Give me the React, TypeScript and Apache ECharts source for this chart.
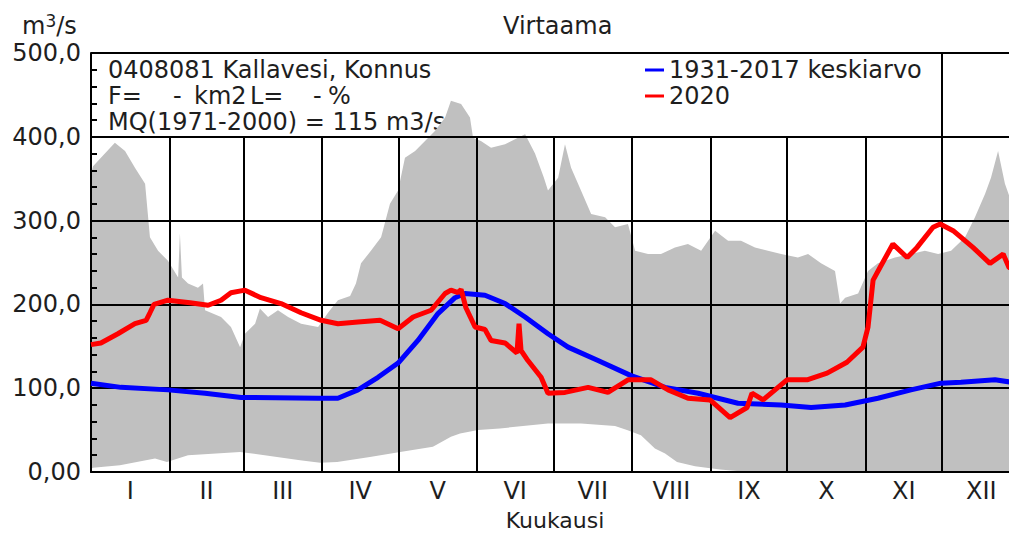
import React, { useEffect, useRef } from 'react';
import * as echarts from 'echarts';

const FONT = 'DejaVu Sans';
const TXT = '#1e1e1e';
const FS = 24;

// Day-of-year boundaries of months (2020, leap year)
const monthStarts = [0, 31, 60, 91, 121, 152, 182, 213, 244, 274, 305, 335, 366];
const monthLabels = ['I', 'II', 'III', 'IV', 'V', 'VI', 'VII', 'VIII', 'IX', 'X', 'XI', 'XII'];
const yTicks = [0, 100, 200, 300, 400, 500];
// visible part of the year (the picture is cut at the right edge)
const dayMax = 361.4;

// Envelope of daily flows (max), m3/s, [day, value]
const maxFlow: [number, number][] = [
  [0, 355], [0.8, 365], [3.9, 375], [9.4, 393], [13.4, 383], [17.3, 363], [21.3, 344], [23.2, 280],
  [26.4, 264], [30.3, 252], [34.3, 232], [35, 285], [35.8, 232], [38.2, 225], [42.1, 220], [44.1, 225],
  [44.9, 193], [51.2, 185], [55.1, 173], [58.7, 149], [60.6, 165], [64.6, 177], [66.5, 195], [69.7, 185],
  [73.6, 193], [77.6, 185], [82.7, 177], [89.4, 173], [93.3, 190], [97.2, 205], [102, 210], [104.3, 225],
  [106.3, 249], [110.2, 264], [114.2, 280], [117.7, 320], [120.9, 336], [123.6, 375], [127.6, 383],
  [131.5, 395], [135.4, 407], [139.4, 423], [141.7, 443], [145.7, 439], [149.2, 423], [150.4, 399],
  [153.5, 395], [157.5, 387], [163, 391], [168.1, 399], [170.9, 403], [174.8, 380], [178.3, 351],
  [179.9, 336], [183.9, 351], [186.6, 391], [189, 363], [192.9, 336], [196.9, 308], [202.4, 304],
  [206.3, 292], [211.4, 296], [214.2, 264], [219.3, 260], [224.4, 260], [229.9, 268], [235, 272],
  [240.2, 264], [245.7, 288], [250.8, 276], [255.9, 276], [261.4, 268], [266.5, 264], [271.7, 260],
  [278.3, 256], [282.3, 260], [287.4, 249], [292.9, 240], [294.9, 201], [296.9, 208], [302, 213],
  [305.9, 240], [309.8, 249], [316.5, 256], [322.8, 260], [328.3, 264], [333.5, 260], [338.6, 264],
  [344.1, 280], [348, 304], [352, 332], [354.3, 351], [357.1, 383], [359.8, 344], [362.6, 320], [366, 300],
];

// Envelope of daily flows (min)
const minFlow: [number, number][] = [
  [0, 4], [0.8, 5], [11.4, 8], [25.2, 16], [29.9, 12], [38.2, 20], [58.7, 24], [82.3, 14], [90.2, 11],
  [96.9, 12], [109.8, 18], [121.7, 24], [134.6, 30], [141.7, 42], [145.3, 46], [152.4, 50], [161, 52],
  [174, 56], [179.9, 58], [192.9, 58], [206.3, 55], [211, 50], [216.5, 44], [222, 28], [226, 22],
  [230.7, 12], [237.8, 7], [247.6, 3], [255.5, 1], [366, 1],
];

// 1931-2017 mean
const meanFlow: [number, number][] = [
  [0, 106], [11.8, 101], [30.3, 98], [44.9, 94], [59.1, 89], [89.4, 88], [97.2, 88], [105.1, 98],
  [113, 113], [120.9, 130], [128.7, 157], [136.6, 189], [143.3, 208], [147.2, 213], [155.1, 211],
  [163, 201], [170.9, 185], [179.9, 165], [187.8, 149], [199.6, 133], [212.6, 115], [226, 101],
  [239, 94], [254.7, 82], [271.7, 80], [283.5, 77], [296.9, 80], [309.8, 88], [322.8, 98], [334.6, 106],
  [342.5, 107], [355.9, 110], [362.6, 107], [366, 107],
];

// 2020
const flow2020: [number, number][] = [
  [0, 152], [3.9, 154], [10.6, 165], [17.3, 177], [21.7, 181], [23.2, 190], [24.8, 200], [30.3, 205],
  [39, 202], [46.1, 199], [51.2, 205], [55.1, 214], [60.6, 217], [66.9, 208], [74.8, 201], [82.7, 190],
  [90.6, 181], [97.2, 177], [105.1, 179], [113.8, 181], [120.9, 171], [126.8, 185], [133.9, 193],
  [139.4, 213], [141.7, 217], [144.5, 214], [145.7, 218], [147.6, 196], [151.2, 173], [155.1, 170],
  [157.5, 157], [163, 154], [167.7, 142], [168.5, 177], [169.3, 145], [172, 133], [177.2, 113],
  [179.9, 94], [186.6, 95], [195.7, 101], [203.5, 95], [211.4, 110], [220.5, 110], [227.2, 98],
  [235, 88], [243.7, 86], [251.6, 65], [258.3, 77], [260.2, 94], [264.6, 86], [274, 110], [281.9, 110],
  [289.8, 118], [297.6, 131], [303.9, 149], [305.9, 173], [307.9, 229], [310.6, 244], [315.7, 272],
  [321.3, 256], [325.2, 268], [331.5, 292], [334.3, 296], [339.4, 288], [347.2, 268], [353.9, 249],
  [359.1, 260], [361.4, 244], [363.8, 242],
];

const monthMid = monthLabels.map((_, i) => (monthStarts[i] + monthStarts[i + 1]) / 2);

function buildOption() {
  const txt = (text: string, x: number, y: number, align = 'left', fontSize = FS) => ({
    type: 'text',
    x,
    y,
    silent: true,
    style: { text, fill: TXT, fontSize, fontFamily: FONT, align, verticalAlign: 'middle' },
  });
  const markData = monthStarts.slice(1, 12).map((d, i) => [
    { coord: [d, 0] },
    { coord: [d, i === 10 ? yTicks[5] : yTicks[4]] },
  ]);
  return {
    animation: false,
    backgroundColor: '#ffffff',
    title: {
      text: 'Virtaama',
      left: 503,
      top: 14,
      padding: 0,
      textStyle: { fontSize: FS, fontWeight: 'normal', fontFamily: FONT, color: TXT },
    },
    legend: {
      data: ['1931-2017 keskiarvo', '2020'],
      orient: 'vertical',
      left: 645,
      top: 57,
      padding: 0,
      itemWidth: 19,
      itemHeight: 3,
      itemGap: 0,
      icon: 'rect',
      selectedMode: false,
      textStyle: { fontSize: FS, fontFamily: FONT, color: TXT, lineHeight: 26 },
    },
    grid: { left: 91, top: 53, right: 0, height: 419, outerBoundsMode: 'none', containLabel: false },
    xAxis: {
      type: 'value',
      min: 0,
      max: dayMax,
      z: 3,
      axisLine: { show: true, onZero: false, lineStyle: { color: '#000', width: 2 } },
      axisTick: { show: false },
      splitLine: { show: false },
      axisLabel: {
        customValues: monthMid,
        margin: 7,
        fontSize: FS,
        lineHeight: 24,
        fontFamily: FONT,
        color: TXT,
        formatter: (v: number) => {
          let best = 0;
          for (let i = 0; i < monthMid.length; i++) {
            if (Math.abs(monthMid[i] - v) < Math.abs(monthMid[best] - v)) best = i;
          }
          return monthLabels[best];
        },
      },
    },
    yAxis: {
      type: 'value',
      min: 0,
      max: 500,
      interval: 100,
      z: 3,
      axisLine: { show: true, lineStyle: { color: '#000', width: 2 } },
      axisTick: { show: true, inside: true, length: 6, lineStyle: { color: '#000', width: 2 } },
      minorTick: { show: true, splitNumber: 5, length: 6, lineStyle: { color: '#000', width: 2 } },
      splitLine: { show: true, lineStyle: { color: '#000', width: 2 } },
      axisLabel: {
        margin: 10,
        fontSize: FS,
        fontFamily: FONT,
        color: TXT,
        padding: [8, 0, 0, 0],
        formatter: (v: number) => (v === 0 ? '0,00' : v.toFixed(1).replace('.', ',')),
      },
    },
    graphic: [
      {
        type: 'text',
        x: 22,
        y: 26,
        silent: true,
        style: {
          text: '{a|m}{b|3}{a|/s}',
          fill: TXT,
          align: 'left',
          verticalAlign: 'middle',
          rich: {
            a: { fontSize: FS, fontFamily: FONT, fill: TXT },
            b: { fontSize: 17, fontFamily: FONT, fill: TXT, padding: [0, 0, 10, 0] },
          },
        },
      },
      txt('0408081 Kallavesi, Konnus', 108, 70),
      txt('F=', 108, 96),
      txt('-', 173, 96),
      txt('km2', 194, 96),
      txt('L=', 250, 96),
      txt('-', 313, 96),
      txt('%', 328, 96),
      txt('MQ(1971-2000) = 115 m3/s', 108, 122),
      txt('Kuukausi', 555, 520, 'center', 22),
    ],
    series: [
      {
        name: 'maksimi',
        type: 'line',
        data: maxFlow,
        symbol: 'none',
        silent: true,
        color: '#c0c0c0',
        lineStyle: { width: 0 },
        areaStyle: { color: '#c0c0c0', opacity: 1 },
        z: 1,
      },
      {
        name: 'minimi',
        type: 'line',
        data: minFlow,
        symbol: 'none',
        silent: true,
        color: '#ffffff',
        lineStyle: { width: 0 },
        areaStyle: { color: '#ffffff', opacity: 1 },
        z: 1.5,
        markLine: {
          silent: true,
          symbol: ['none', 'none'],
          label: { show: false },
          lineStyle: { color: '#000', width: 2, type: 'solid' },
          z: 3,
          data: markData,
        },
      },
      {
        name: '1931-2017 keskiarvo',
        type: 'line',
        data: meanFlow,
        symbol: 'none',
        color: '#0000ff',
        lineStyle: { color: '#0000ff', width: 5 },
        z: 8,
      },
      {
        name: '2020',
        type: 'line',
        data: flow2020,
        symbol: 'none',
        color: '#ff0000',
        lineStyle: { color: '#ff0000', width: 5 },
        z: 9,
      },
    ],
  };
}

export default function App() {
  const ref = useRef<HTMLDivElement>(null);
  useEffect(() => {
    if (!ref.current) return;
    const chart = echarts.init(ref.current, null, { renderer: 'svg' });
    chart.setOption(buildOption() as any);
    return () => chart.dispose();
  }, []);
  return (
    <div
      ref={ref}
      style={{ position: 'absolute', left: 0, top: 0, width: 1009, height: 534, overflow: 'hidden', background: '#fff' }}
    />
  );
}
